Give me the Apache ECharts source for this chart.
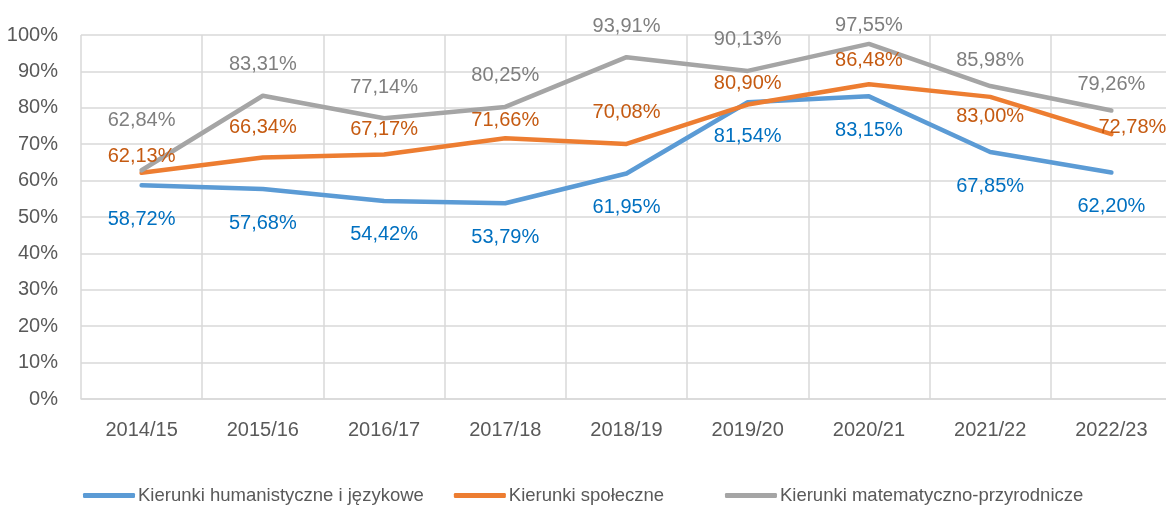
<!DOCTYPE html>
<html>
<head>
<meta charset="utf-8">
<script src="https://cdn.jsdelivr.net/npm/echarts@6/dist/echarts.min.js"></script>
<style>
  html, body { margin: 0; padding: 0; background: #fff; }
  #chart { width: 1166px; height: 507px; }
</style>
</head>
<body>
<div id="chart"></div>
<script>
// lata akademickie
const categories = ['2014/15', '2015/16', '2016/17', '2017/18', '2018/19', '2019/20', '2020/21', '2021/22', '2022/23']
const seriesNames = ['Kierunki humanistyczne i językowe', 'Kierunki społeczne', 'Kierunki matematyczno-przyrodnicze']
const humanistyczne = [58.72, 57.68, 54.42, 53.79, 61.95, 81.54, 83.15, 67.85, 62.20]
const spoleczne = [62.13, 66.34, 67.17, 71.66, 70.08, 80.90, 86.48, 83.00, 72.78]
const matPrzyr = [62.84, 83.31, 77.14, 80.25, 93.91, 90.13, 97.55, 85.98, 79.26]
const yTicks = [0, 10, 20, 30, 40, 50, 60, 70, 80, 90, 100]

// przesuniecia etykiet (jak w oryginale z Excela)
const orangeLabelShift = [[0, 0], [0, -14], [0, -9], [0, -2], [0, -15], [0, -5], [0, -8], [0, 36], [21, 9]]
const grayLabelDy = [-19, 0, 0, 0, 0, 0, 13, 5, 5]

const font = '"Liberation Sans", Arial, sans-serif'
const fs = 20
const fmt = p => p.value.toFixed(2).replace('.', ',') + '%'

const chart = echarts.init(document.getElementById('chart'))

function lineSeries(name, values, lineColor, labelColor, position, distance, shifts) {
  return {
    name: name,
    type: 'line',
    showSymbol: true,
    symbol: 'circle',
    symbolSize: 0,
    lineStyle: { color: lineColor, width: 4.5, cap: 'round', join: 'round' },
    itemStyle: { color: lineColor },
    label: {
      show: true,
      position: position,
      distance: distance,
      color: labelColor,
      fontFamily: font,
      fontSize: fs,
      formatter: fmt
    },
    data: values.map((v, i) => {
      const item = { value: v }
      if (shifts && (shifts[i][0] || shifts[i][1])) {
        item.label = { offset: shifts[i] }
      }
      return item
    })
  }
}

const graySeries = lineSeries(seriesNames[2], matPrzyr, '#a5a5a5', '#7f7f7f', 'top', 21, null)
graySeries.labelLayout = p => ({ dy: grayLabelDy[p.dataIndex] })

chart.setOption({
  animation: false,
  textStyle: { fontFamily: font },
  grid: { left: 81, right: -6, top: 35, bottom: 108, containLabel: false, outerBoundsMode: 'none' },
  legend: {
    left: 83,
    top: 486,
    padding: 0,
    icon: 'roundRect',
    itemWidth: 52,
    itemHeight: 5,
    itemGap: 30,
    textStyle: { color: '#595959', fontSize: 18.5, fontFamily: font, padding: [0, 0, 0, -2] },
    // drugi wpis w oryginale jest szerszy
    formatter: name => (name === seriesNames[1] ? name + '\u00a0\u00a0\u00a0\u00a0\u00a0\u00a0' : name),
    data: seriesNames
  },
  xAxis: {
    type: 'category',
    data: categories,
    boundaryGap: true,
    axisLine: { lineStyle: { color: '#d9d9d9', width: 1.5 } },
    axisTick: { show: false },
    axisLabel: { color: '#595959', fontSize: fs, margin: 21, fontFamily: font },
    splitLine: { show: true, lineStyle: { color: '#d9d9d9', width: 1.5 } }
  },
  yAxis: {
    type: 'value',
    min: yTicks[0],
    max: yTicks[yTicks.length - 1],
    interval: 10,
    axisLine: { show: false },
    axisTick: { show: false },
    axisLabel: { color: '#595959', fontSize: fs, margin: 23, fontFamily: font, formatter: '{value}%' },
    splitLine: { lineStyle: { color: '#d9d9d9', width: 1.5 } }
  },
  series: [
    lineSeries(seriesNames[0], humanistyczne, '#5b9bd5', '#0070c0', 'bottom', 24, null),
    lineSeries(seriesNames[1], spoleczne, '#ed7d31', '#c55a11', 'top', 6, orangeLabelShift),
    graySeries
  ]
})
</script>
</body>
</html>
